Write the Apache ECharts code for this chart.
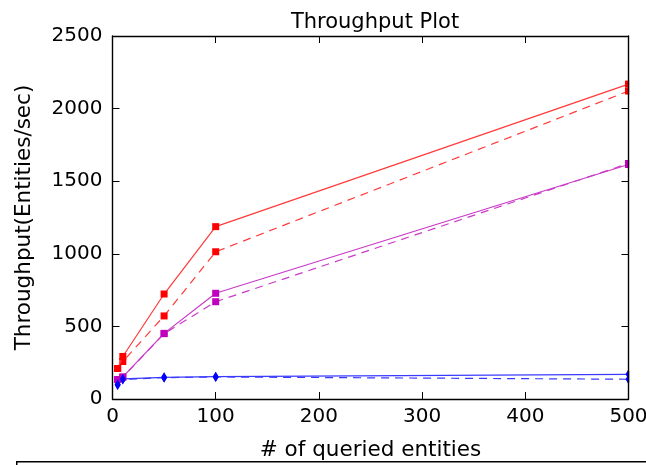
<!DOCTYPE html>
<html>
<head>
<meta charset="utf-8">
<script src="https://cdn.jsdelivr.net/npm/echarts@6/dist/echarts.min.js"></script>
<style>
html,body{margin:0;padding:0;background:#fff;}
#chart{width:646px;height:465px;}
</style>
</head>
<body>
<div id="chart"></div>
<script>
var xValues = [5, 10, 50, 100, 500];
var redSolid = [210, 293, 723, 1187, 2169];
var redDashed = [210, 258, 572, 1014, 2121];
var purpleSolid = [134, 152, 452, 728, 1615];
var purpleDashed = [134, 150, 450, 670, 1622];
var blueSolid = [100, 138, 149, 154, 170];
var blueDashed = [96, 135, 147, 152, 136];
var xTicks = [0, 100, 200, 300, 400, 500];
var yTicks = [0, 500, 1000, 1500, 2000, 2500];

function pairs(ys) { return xValues.map(function (x, i) { return [x, ys[i]]; }); }

var FONT = 'DejaVu Sans';
function mk(name, data, color, lineColor, dashed, symbol, size) {
  return {
    name: name, type: 'line', data: pairs(data),
    symbol: symbol, symbolSize: size,
    itemStyle: { color: color },
    lineStyle: { color: lineColor, width: 1.2, type: dashed ? [8, 6] : 'solid' },
    emphasis: { disabled: true },
    animation: false, z: dashed ? 2 : 3
  };
}
var chart = echarts.init(document.getElementById('chart'));
function axisCommon() {
  return {
    axisLine: { show: true, onZero: false, lineStyle: { color: '#000', width: 1.4 } },
    axisTick: { show: true, inside: true, length: 7, lineStyle: { color: '#000', width: 1 } },
    splitLine: { show: false }
  };
}
function plain(v) { return String(v); }
chart.setOption({
  animation: false,
  title: { text: 'Throughput Plot', left: 370, top: 7, textAlign: 'center',
    textStyle: { fontFamily: FONT, fontSize: 21, fontWeight: 'normal', color: '#000' } },
  grid: { left: 112.5, right: 17.5, top: 36, bottom: 66, containLabel: false, outerBoundsMode: 'none' },
  xAxis: [
    Object.assign({ type: 'value', position: 'bottom', min: xTicks[0], max: xTicks[xTicks.length - 1], interval: 100,
      name: '# of queried entities', nameLocation: 'middle', nameGap: 40,
      nameTextStyle: { fontFamily: FONT, fontSize: 21.5, color: '#000' },
      axisLabel: { fontFamily: FONT, fontSize: 20, color: '#000', margin: 8, formatter: plain } }, axisCommon()),
    Object.assign({ type: 'value', position: 'top', min: xTicks[0], max: xTicks[xTicks.length - 1], interval: 100,
      axisLabel: { show: false } }, axisCommon())
  ],
  yAxis: [
    Object.assign({ type: 'value', position: 'left', min: yTicks[0], max: yTicks[yTicks.length - 1], interval: 500,
      name: 'Throughput(Entities/sec)', nameLocation: 'middle', nameGap: 77,
      nameTextStyle: { fontFamily: FONT, fontSize: 21.5, color: '#000' },
      axisLabel: { fontFamily: FONT, fontSize: 20, color: '#000', margin: 10, formatter: plain } }, axisCommon()),
    Object.assign({ type: 'value', position: 'right', min: yTicks[0], max: yTicks[yTicks.length - 1], interval: 500,
      z: 20, axisLabel: { show: false } }, axisCommon())
  ],
  series: [
    mk('redDashed', redDashed, '#ff0000', '#ff3a3a', true, 'rect', 7),
    mk('purpleDashed', purpleDashed, '#bf00bf', '#c93ac9', true, 'rect', 7),
    mk('blueDashed', blueDashed, '#0000ff', '#3a3aff', true, 'diamond', [6, 10]),
    mk('redSolid', redSolid, '#ff0000', '#ff3a3a', false, 'rect', 7),
    mk('purpleSolid', purpleSolid, '#bf00bf', '#c93ac9', false, 'rect', 7),
    mk('blueSolid', blueSolid, '#0000ff', '#3a3aff', false, 'diamond', [6, 10])
  ],
  graphic: [{
    type: 'rect', left: 629.2, top: 37, z: 15, shape: { width: 20, height: 361 },
    style: { fill: '#fff' }, silent: true
  }, {
    type: 'rect', left: 16, top: 461, z: 15, shape: { width: 660, height: 30 },
    style: { fill: '#fff', stroke: '#000', lineWidth: 1.5 }, silent: true
  }]
});
</script>
</body>
</html>
